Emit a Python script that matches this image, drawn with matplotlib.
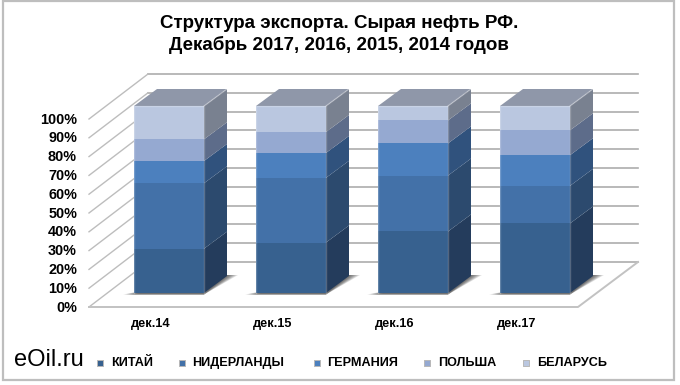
import matplotlib
matplotlib.use("Agg")
import matplotlib.pyplot as plt
from matplotlib.patches import Polygon, Rectangle

plt.rcParams["font.family"] = ["Liberation Sans", "DejaVu Sans"]

# --- data ---
categories = ["дек.14", "дек.15", "дек.16", "дек.17"]
series_names = ["КИТАЙ", "НИДЕРЛАНДЫ", "ГЕРМАНИЯ", "ПОЛЬША", "БЕЛАРУСЬ"]
kitai = [23.7, 27.0, 32.9, 37.2]
niderlandy = [35.0, 34.6, 29.9, 20.1]
germaniya = [11.9, 13.3, 17.2, 16.4]
polsha = [11.6, 11.2, 12.3, 13.3]
belarus = [17.8, 13.9, 7.7, 13.0]
y_ticks = [0, 10, 20, 30, 40, 50, 60, 70, 80, 90, 100]

front_colors = ["#37618F", "#4371A8", "#4C80BE", "#95A9D1", "#BAC7E0"]
side_colors = ["#243C5C", "#2C4A6E", "#30527D", "#5D6C8A", "#798190"]
top_color = "#8F97A9"

# --- layout, in pixels of the 680x385 picture ---
bar_left = [134, 256, 378, 500]
bar_w = 70
dx, dy = 23, 17
bar_base = 293
bar_scale = 1.87
wall_x0, wall_x1 = 148, 638
wall_base = 262
wall_scale = 1.88
front_x0, front_x1 = 89, 578
side_dx, side_dy = 59, 45

fig = plt.figure(figsize=(6.8, 3.85), dpi=100, facecolor="white")
ax = fig.add_axes([0, 0, 1, 1])
ax.set_xlim(0, 680)
ax.set_ylim(385, 0)
ax.axis("off")

# chart frame
ax.add_patch(Rectangle((3, 1), 671, 379, fc="white", ec="#BEBEBE", lw=1.6, zorder=0))

# gridlines on back and left walls
for t in y_ticks:
    y = wall_base - t * wall_scale
    ax.plot([wall_x0, wall_x1], [y, y], color="#ADADAD", lw=1.2, zorder=1)
    ax.plot([front_x0, wall_x0], [y + side_dy, y], color="#BDBDBD", lw=1.0, zorder=1)
    ax.text(77, y + side_dy + 0.5, f"{t}%", ha="right", va="center",
            fontsize=10.4, fontweight="bold", color="black")

# floor
ax.plot([front_x0, front_x1, wall_x1], [wall_base + side_dy, wall_base + side_dy, wall_base],
        color="#C2C2C2", lw=1.4, zorder=1)

# bars
for i, left in enumerate(bar_left):
    # floor shadow, faded by stacking thin layers
    for k in range(8):
        grow = 1 - k / 8
        sh = Polygon([(left - 11 * grow, bar_base + 1.5), (left + bar_w, bar_base + 1.5),
                      (left + bar_w + dx + 11 * grow, bar_base - dy - 1),
                      (left + bar_w + dx - 6, bar_base - dy - 1)],
                     fc="#303030", ec="none", alpha=0.13, zorder=2)
        ax.add_patch(sh)

    bottom = 0
    values = [kitai[i], niderlandy[i], germaniya[i], polsha[i], belarus[i]]
    for v, fc, sc in zip(values, front_colors, side_colors):
        y0 = bar_base - bottom * bar_scale
        y1 = bar_base - (bottom + v) * bar_scale
        ax.add_patch(Rectangle((left, y1), bar_w, y0 - y1, fc=fc, ec="none", zorder=3))
        ax.add_patch(Polygon([(left + bar_w, y0), (left + bar_w + dx, y0 - dy),
                              (left + bar_w + dx, y1 - dy), (left + bar_w, y1)],
                             fc=sc, ec="none", zorder=3))
        bottom += v

    top_y = bar_base - 100 * bar_scale
    ax.add_patch(Polygon([(left, top_y), (left + dx, top_y - dy),
                          (left + bar_w + dx, top_y - dy), (left + bar_w, top_y)],
                         fc=top_color, ec="none", zorder=3))
    # lighter edges of the box
    ax.plot([left, left, left + bar_w, left + bar_w], [bar_base, top_y, top_y, bar_base],
            color="white", alpha=0.22, lw=1.0, zorder=4)
    ax.plot([left + bar_w, left + bar_w + dx], [top_y, top_y - dy],
            color="white", alpha=0.3, lw=1.0, zorder=4)
    ax.text(left + 17, 323.5, categories[i], ha="center", va="center",
            fontsize=9.2, fontweight="bold", color="black")

# title
ax.text(339, 23, "Структура экспорта. Сырая нефть РФ.", ha="center", va="center",
        fontsize=13.5, fontweight="bold", color="black")
ax.text(339, 45, "Декабрь 2017, 2016, 2015, 2014 годов", ha="center", va="center",
        fontsize=13.5, fontweight="bold", color="black")

# legend
marker_x = [100, 182, 317, 427, 526]
label_x = [111.5, 192, 327, 438, 537]
for mx, lx, name, fc in zip(marker_x, label_x, series_names, front_colors):
    ax.scatter([mx], [363], marker="s", s=22, color=fc, edgecolors="#B8B8B8", linewidths=0.7, zorder=5)
    ax.text(lx, 363, name, ha="left", va="center", fontsize=9.1, fontweight="bold", color="black")

ax.text(14, 360, "eOil.ru", ha="left", va="center", fontsize=17, color="black")

fig.savefig("out.png", dpi=100, facecolor="white")
